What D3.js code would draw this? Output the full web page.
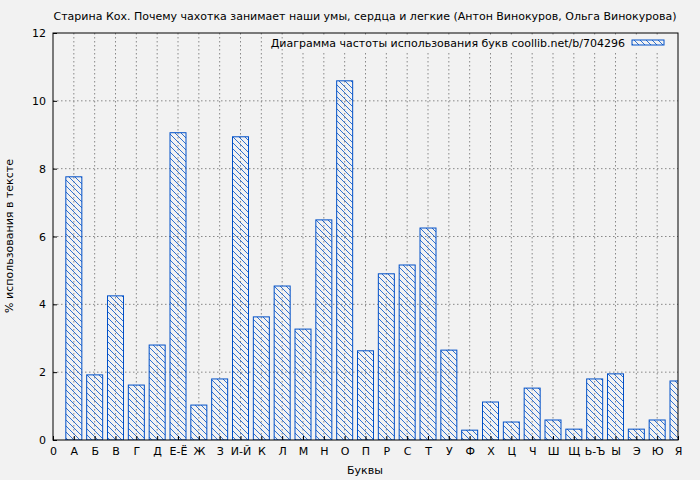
<!DOCTYPE html>
<html><head><meta charset="utf-8">
<script src="https://cdn.jsdelivr.net/npm/d3@7"></script>
<style>body{margin:0;background:#f2f2f2}text{font-family:"DejaVu Sans",sans-serif}</style>
</head><body><svg id="c" width="700" height="480"></svg>
<script>
// данные
var letters = ["0","А","Б","В","Г","Д","Е-Ё","Ж","З","И-Й","К","Л","М","Н","О","П","Р","С","Т","У","Ф","Х","Ц","Ч","Ш","Щ","Ь-Ъ","Ы","Э","Ю","Я"];
var values = [null,7.76,1.92,4.25,1.62,2.80,9.06,1.03,1.80,8.94,3.63,4.54,3.27,6.49,10.59,2.63,4.90,5.16,6.25,2.65,0.29,1.12,0.53,1.53,0.59,0.32,1.80,1.95,0.32,0.59,1.74];
var yTicks = [0,2,4,6,8,10,12];

var svg = d3.select("#c");
var L = 53, R = 678, T = 33, B = 440;
var x = d3.scaleLinear().domain([0, letters.length - 1]).range([L, R]);
var y = d3.scaleLinear().domain([0, 12]).range([B, T]);

var pat = svg.append("defs").append("pattern").attr("id", "h")
    .attr("patternUnits", "userSpaceOnUse").attr("width", 6).attr("height", 6);
pat.append("path").attr("d", "M-1,-1 L7,7 M-1,5 L1,7 M5,-1 L7,1")
    .attr("stroke", "#0050c8").attr("stroke-width", 0.8);
svg.append("clipPath").attr("id", "cp").append("rect")
    .attr("x", L).attr("y", T).attr("width", R - L).attr("height", B - T);

svg.append("rect").attr("x", L).attr("y", T).attr("width", R - L).attr("height", B - T).attr("fill", "#f2f2f2");

// сетка
var g = svg.append("g");
g.selectAll(".gx").data(d3.range(1, letters.length - 1)).enter().append("line")
    .attr("x1", d => x(d)).attr("x2", d => x(d)).attr("y1", T).attr("y2", B)
    .attr("stroke", "#888").attr("stroke-dasharray", "1.5,2.5");
g.selectAll(".gy").data(yTicks.slice(1, -1)).enter().append("line")
    .attr("x1", L).attr("x2", R).attr("y1", d => y(d)).attr("y2", d => y(d))
    .attr("stroke", "#888").attr("stroke-dasharray", "1.5,2.5");

var bw = 16;
svg.append("g").attr("clip-path", "url(#cp)").selectAll("rect")
    .data(values.map((v, i) => ({v: v, i: i})).filter(d => d.v != null))
    .enter().append("rect")
    .attr("x", d => x(d.i) - bw / 2).attr("y", d => y(d.v))
    .attr("width", bw).attr("height", d => B - y(d.v))
    .attr("fill", "url(#h)").attr("stroke", "#0050c8").attr("stroke-width", 1);

svg.append("rect").attr("x", L).attr("y", T).attr("width", R - L).attr("height", B - T)
    .attr("fill", "none").attr("stroke", "#000");

var xa = svg.append("g").attr("transform", "translate(0," + B + ")")
    .call(d3.axisBottom(x).tickValues(d3.range(letters.length)).tickFormat(i => letters[i]).tickSize(-4).tickPadding(7));
var ya = svg.append("g").attr("transform", "translate(" + L + ",0)")
    .call(d3.axisLeft(y).tickValues(yTicks).tickSize(-4).tickPadding(7));
[xa, ya].forEach(a => { a.select(".domain").remove(); a.selectAll("text").attr("font-size", 11).attr("fill", "#000"); });

svg.append("text").attr("x", 365).attr("y", 20).attr("text-anchor", "middle").attr("font-size", 11)
    .text("Старина Кох. Почему чахотка занимает наши умы, сердца и легкие (Антон Винокуров, Ольга Винокурова)");
svg.append("text").attr("x", 365).attr("y", 474).attr("text-anchor", "middle").attr("font-size", 11).text("Буквы");
svg.append("text").attr("transform", "translate(13,236) rotate(-90)").attr("text-anchor", "middle").attr("font-size", 11)
    .text("% использования в тексте");

// легенда
svg.append("rect").attr("x", 285).attr("y", 35).attr("width", 390).attr("height", 16).attr("fill", "#f2f2f2");
svg.append("text").attr("x", 625).attr("y", 47).attr("text-anchor", "end").attr("font-size", 11)
    .text("Диаграмма частоты использования букв coollib.net/b/704296");
svg.append("rect").attr("x", 632).attr("y", 40).attr("width", 32).attr("height", 5)
    .attr("fill", "url(#h)").attr("stroke", "#0050c8");
</script></body></html>
